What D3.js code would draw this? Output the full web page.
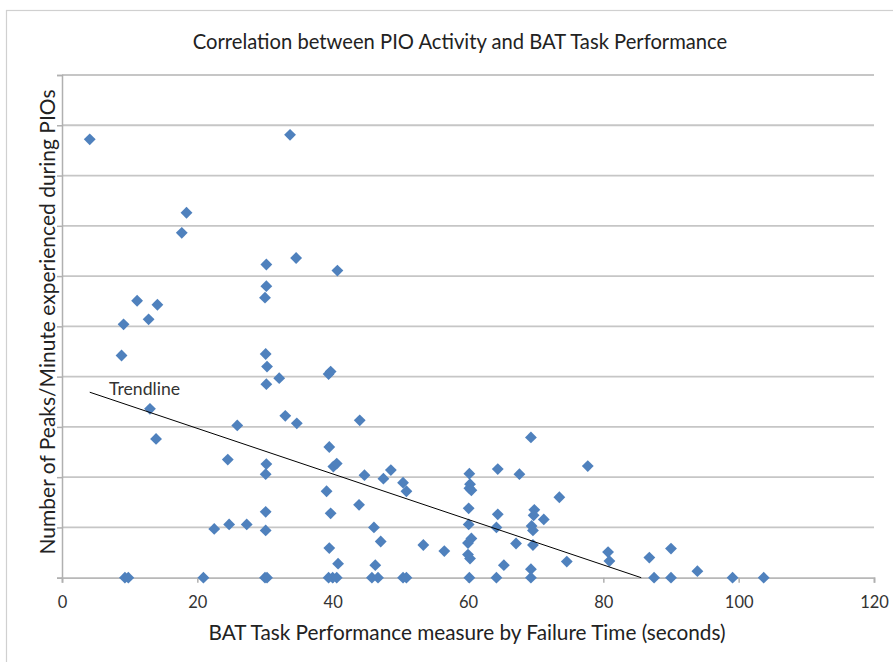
<!DOCTYPE html>
<html>
<head>
<meta charset="utf-8">
<script src="https://cdn.jsdelivr.net/npm/d3@7/dist/d3.min.js"></script>
<style>
  html, body { margin: 0; padding: 0; background: #ffffff; }
  svg { display: block; }
</style>
</head>
<body>
<svg id="chart" width="893" height="662"></svg>
<script>
// ---- Data ----
const failureTime = [
  4.1, 33.7, 18.4, 17.7, 34.6, 30.2, 40.7, 30.2, 30.0, 11.1,
  14.1, 12.8, 9.1, 8.8, 30.1, 30.3, 30.2, 32.1, 39.4, 39.7,
  13.0, 13.9, 33.0, 34.7, 25.9, 39.5, 24.5, 30.2, 30.1, 40.1,
  40.6, 39.1, 39.7, 30.1, 30.1, 22.5, 24.7, 27.3, 39.5, 40.8,
  9.3, 9.8, 20.9, 30.0, 30.3, 39.4, 40.0, 40.6,
  44.0, 44.7, 43.9, 46.1, 47.1, 46.3, 45.8, 46.7,
  47.5, 48.6, 50.4, 50.9, 50.4, 50.9, 53.4, 56.5,
  60.2, 60.3, 60.2, 60.5, 60.1, 60.1, 60.5, 60.0, 60.0, 60.3, 60.2,
  64.4, 64.4, 64.2, 65.3, 64.2, 67.6, 67.1, 69.3,
  69.8, 69.7, 69.4, 69.6, 69.6, 69.3, 69.3,
  71.2, 73.5, 74.6, 77.7, 80.7, 80.9, 86.8, 90.0, 87.5, 90.0,
  93.9, 99.1, 103.7
];
const peaksPerMinute = [
  8.72, 8.81, 7.26, 6.86, 6.36, 6.23, 6.11, 5.80, 5.57, 5.51,
  5.43, 5.14, 5.04, 4.42, 4.45, 4.20, 3.85, 3.97, 4.05, 4.10,
  3.36, 2.76, 3.22, 3.07, 3.03, 2.60, 2.35, 2.26, 2.06, 2.21,
  2.27, 1.72, 1.28, 1.31, 0.94, 0.97, 1.06, 1.06, 0.59, 0.28,
  0, 0, 0, 0, 0, 0, 0, 0,
  3.13, 2.04, 1.45, 1.00, 0.72, 0.25, 0, 0,
  1.97, 2.14, 1.89, 1.72, 0, 0, 0.65, 0.53,
  2.07, 1.86, 1.78, 1.74, 1.38, 1.06, 0.78, 0.69, 0.46, 0.38, 0,
  2.16, 1.26, 1.00, 0.25, 0, 2.06, 0.68, 2.79,
  1.35, 1.24, 1.03, 0.94, 0.65, 0.17, 0,
  1.16, 1.60, 0.32, 2.22, 0.51, 0.33, 0.40, 0.58, 0, 0,
  0.13, 0, 0
];
const trendX = [4.1, 85.6];
const trendY = [3.69, 0];
const xTicks = [0, 20, 40, 60, 80, 100, 120];
const yGrid = [0, 1, 2, 3, 4, 5, 6, 7, 8, 9, 10];

const titleText = "Correlation between PIO Activity and BAT Task Performance";
const xTitle = "BAT Task Performance measure by Failure Time (seconds)";
const yTitle = "Number of Peaks/Minute experienced during PIOs";
const trendLabel = "Trendline";

// ---- Layout ----
const svg = d3.select("#chart");
const FONT = "Lato, 'Open Sans', 'Liberation Sans', sans-serif";
const x = d3.scaleLinear().domain([0, 120]).range([62, 874]);
const y = d3.scaleLinear().domain([0, 10]).range([577.7, 75]);

// fit a text element's font size so it spans a target width
function fit(sel, targetW) {
  const node = sel.node();
  const fs = parseFloat(sel.attr("font-size"));
  const w = node.getComputedTextLength();
  if (w > 0) sel.attr("font-size", (fs * targetW / w).toFixed(2));
  return sel;
}

// chart frame
svg.append("rect")
  .attr("x", 6.5).attr("y", 10.5)
  .attr("width", 900).attr("height", 700)
  .attr("fill", "none").attr("stroke", "#d0d0d0").attr("stroke-width", 1.2);

// gridlines
svg.append("g").selectAll("line").data(yGrid.filter(d => d > 0)).join("line")
  .attr("x1", x(0)).attr("x2", x(120))
  .attr("y1", d => y(d)).attr("y2", d => y(d))
  .attr("stroke", "#c6c6c6").attr("stroke-width", 1.8);

// y axis
const yAxis = d3.axisLeft(y).tickValues(yGrid).tickSize(5).tickFormat("");
const gy = svg.append("g").attr("transform", `translate(${x(0)},0)`).call(yAxis);
gy.select(".domain").attr("stroke", "#b0b0b0").attr("stroke-width", 1.5);
gy.selectAll(".tick line").attr("stroke", "#b0b0b0").attr("stroke-width", 1.5);

// x axis
const xAxis = d3.axisBottom(x).tickValues(xTicks).tickSize(5).tickPadding(14)
  .tickFormat(d3.format("d"));
const gx = svg.append("g").attr("transform", `translate(0,${y(0)})`).call(xAxis);
gx.select(".domain").attr("stroke", "#b8b8b8").attr("stroke-width", 1.8);
gx.selectAll(".tick line").attr("stroke", "#b0b0b0").attr("stroke-width", 1.5);
gx.selectAll(".tick text").attr("font-family", FONT).attr("font-size", 16.5).attr("fill", "#333");

// points (diamonds)
const pts = failureTime.map((d, i) => ({x: d, y: peaksPerMinute[i]}));
const sym = d3.symbol().type(d3.symbolSquare).size(70);
svg.append("g").selectAll("path").data(pts).join("path")
  .attr("d", sym)
  .attr("transform", d => `translate(${x(d.x)},${y(d.y)}) rotate(45)`)
  .attr("fill", "#4f81bd");

// trendline
svg.append("line")
  .attr("x1", x(trendX[0])).attr("y1", y(trendY[0]))
  .attr("x2", x(trendX[1])).attr("y2", y(trendY[1]))
  .attr("stroke", "#000").attr("stroke-width", 1);

fit(svg.append("text").attr("x", 109).attr("y", 395)
  .attr("font-family", FONT).attr("font-size", 15).attr("fill", "#333")
  .text(trendLabel), 71);

// titles
fit(svg.append("text").attr("x", 460).attr("y", 49).attr("text-anchor", "middle")
  .attr("font-family", FONT).attr("font-size", 18).attr("fill", "#222")
  .text(titleText), 535);

fit(svg.append("text").attr("x", 467).attr("y", 640).attr("text-anchor", "middle")
  .attr("font-family", FONT).attr("font-size", 18).attr("fill", "#222")
  .text(xTitle), 517);

fit(svg.append("text")
  .attr("transform", "translate(55,322) rotate(-90)")
  .attr("text-anchor", "middle")
  .attr("font-family", FONT).attr("font-size", 18).attr("fill", "#222")
  .text(yTitle), 465);
</script>
</body>
</html>
